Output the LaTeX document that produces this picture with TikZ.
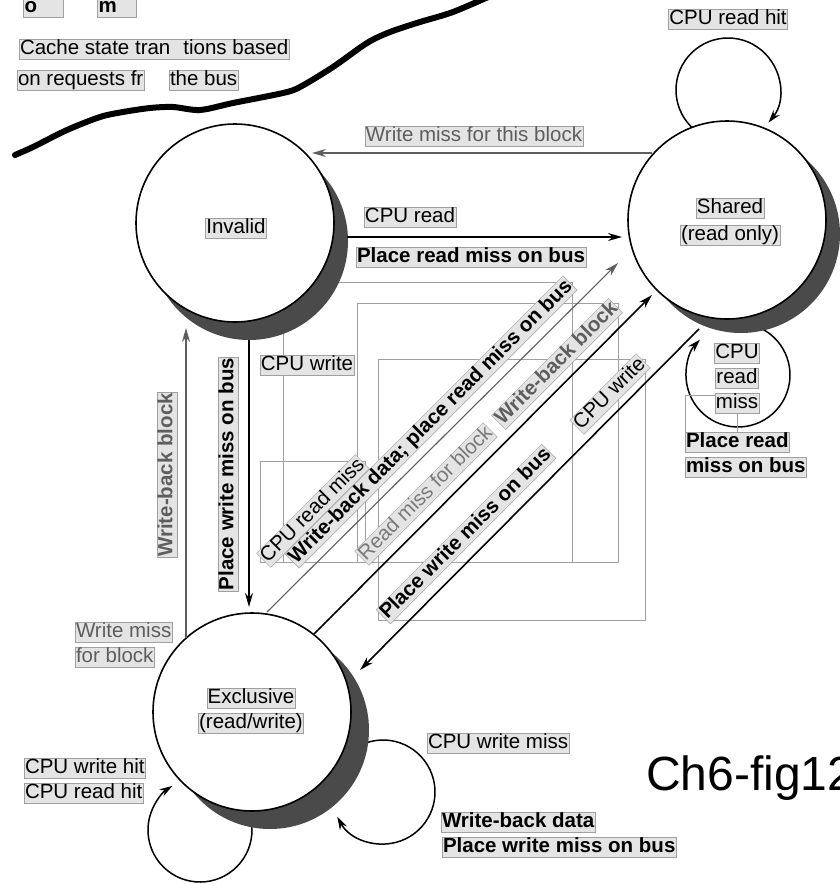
\documentclass[tikz,border=0pt]{standalone}
\usepackage{fontspec}
\setmainfont{Liberation Sans}
\usetikzlibrary{arrows.meta,calc}
\definecolor{shadowgray}{HTML}{4A4A4A}
\definecolor{busgray}{HTML}{5E5E5E}
\definecolor{lightbus}{HTML}{7A7A7A}
\definecolor{boxfill}{HTML}{E4E4E4}
\definecolor{boxline}{HTML}{A0A0A0}
\newcommand\lblsz{\fontsize{20.5}{25}\selectfont}
\pgfdeclarelayer{bg}
\pgfsetlayers{bg,main}
\begin{document}
\begin{tikzpicture}[x=1pt,y=1pt,
  statec/.style={circle,draw=black,line width=1.6pt,fill=white,minimum size=198pt,inner sep=0pt},
  shadowc/.style={circle,fill=shadowgray,minimum size=198pt,inner sep=0pt},
  lbl/.style={fill=boxfill,draw=boxline,line width=0.4pt,inner sep=0.8pt,text height=14.5pt,text depth=4pt,font=\lblsz},
  lblb/.style={lbl,font=\lblsz\bfseries},
  arr/.style={line width=1.6pt,-{Stealth[length=14pt,width=8pt]}},
  busarr/.style={line width=1.4pt,draw=busgray,-{Stealth[length=14pt,width=8pt]}},
  thinarr/.style={line width=1.1pt,draw=busgray,-{Stealth[length=14pt,width=8pt]}},
  loopline/.style={line width=1.5pt,-{Stealth[length=13pt,width=8pt]}},
  artifact/.style={draw=boxline,line width=0.8pt}
]
\useasboundingbox (0,0) rectangle (840,-884);
\clip (0,0) rectangle (840,-884);
\begin{pgfonlayer}{bg}
\fill[white] (0,0) rectangle (840,-884);
\end{pgfonlayer}

% thick separating curve
\draw[line width=6pt,line cap=round,line join=round] plot[smooth] coordinates
 {(15,-155) (33,-147) (67,-130) (100,-117) (123,-112) (150,-108) (173,-107) (200,-110) (233,-103) (283,-93) (300,-87) (333,-67) (367,-43) (390,-32) (420,-22) (453,-12) (495,6)};

% gray box outlines
\draw[artifact] (283,-282) rectangle (572,-562);
\draw[artifact] (357,-303) rectangle (618,-562);
\draw[artifact] (378,-359) rectangle (645,-620);
\draw[artifact] (260,-461) rectangle (365,-562);
\draw[artifact] (685,-395) rectangle (737,-433);

% states
\node[shadowc] (invs) at (249,-241) {};
\node[statec] (inv) at (235,-223) {};
\node[shadowc] (shs) at (741,-234) {};
\node[statec] (sh) at (727,-220) {};
\node[shadowc] (exs) at (270,-730) {};
\node[statec] (ex) at (252,-712) {};

% self loops (behind states)
\begin{pgfonlayer}{bg}
\draw[loopline] ($(sh)+(1,130)$) ++(230:52) arc[start angle=230,end angle=-39,radius=52];
\draw[loopline] ($(sh)+(11,-155)$) ++(70:52) arc[start angle=70,end angle=-223,radius=52];
\draw[loopline] ($(ex)+(-52,-118)$) ++(40:52) arc[start angle=40,end angle=-238,radius=52];
\draw[loopline] ($(ex)+(131,-80)$) ++(110:52) arc[start angle=110,end angle=-151.5,radius=52];
\end{pgfonlayer}

% transitions
\draw[busarr] ($(sh)+(-75,67)$) -- ($(inv)+(77,70)$);
\draw[arr] ($(invs)+(98,4)$) -- ($(sh)+(-105,-17)$);
\draw[arr] (invs.south) -- ($(ex)+(-3,105)$);
\draw[busarr] ($(ex)+(-66,74)$) -- ($(inv)+(-49,-105)$);
\draw[thinarr] ($(ex)+(15,100)$) -- ($(sh)+(-109,-43)$);
\draw[arr] ($(ex)+(62,78)$) -- ($(sh)+(-75,-75)$);
\draw[arr] ($(shs)+(-42,-95)$) -- ($(ex)+(108,42)$);

% state texts
\node[lbl] (tInv) at (236,-228) {Invalid};
\node[lbl] (tSh1) at (730,-208) {Shared};
\node[lbl] (tSh2) at (730,-235) {(read only)};
\node[lbl] (tEx1) at (251,-698) {Exclusive};
\node[lbl] (tEx2) at (251,-723) {(read/write)};

% top-left texts
\node[lblb,anchor=base west,minimum width=40pt,align=left,text width=37pt] (lo) at (23,-12) {o};
\node[lblb,anchor=base west,minimum width=39pt,align=left,text width=36pt] (lm) at (97,-12) {m};
\node[lbl,anchor=west] (lcache) at (19,-49) {Cache state tran\hspace{13pt}tions based};
\node[lbl,anchor=west] (lreq) at (17,-80) {on requests fr};
\node[lbl,anchor=west] (lbus) at (169,-80) {the bus};

% transition labels
\node[lbl] (lCRH) at (728,-19) {CPU read hit};
\node[lbl,text=busgray] (lWMTB) at (474,-136) {Write miss for this block};
\node[lbl] (lCR) at (410,-217) {CPU read};
\node[lblb] (lPRM) at (471,-257) {Place read miss on bus};
\node[lbl] (lCW) at (307,-365) {CPU write};
\node[lbl,anchor=west,text=busgray] (lWM1) at (75,-632) {Write miss};
\node[lbl,anchor=west,text=busgray] (lWM2) at (75,-657) {for block};
\node[lbl,anchor=west] (lCWH) at (24,-768) {CPU write hit};
\node[lbl,anchor=west] (lCRH2) at (24,-793) {CPU read hit};
\node[lbl,anchor=west] (lCWM) at (427,-743) {CPU write miss};
\node[lblb,anchor=west] (lWBD) at (441,-822) {Write-back data};
\node[lblb,anchor=west] (lPWM) at (442,-847) {Place write miss on bus};
\node[lbl] (lC1) at (737,-353) {CPU};
\node[lbl] (lC2) at (737,-378) {read};
\node[lbl] (lC3) at (737,-403) {miss};
\node[lblb,anchor=west] (lPR1) at (685,-442) {Place read};
\node[lblb,anchor=west] (lPR2) at (685,-467) {miss on bus};
\node[lblb,rotate=90,text=busgray] (lWBB) at (167,-475) {Write-back block};
\node[lblb,rotate=90] (lPWMv) at (228,-474) {Place write miss on bus};
\node[lbl,rotate=45] (dCRM) at (313,-511) {CPU read miss};
\node[lblb,rotate=45] (dWBD) at (431,-422) {Write-back data; place read miss on bus};
\node[lbl,rotate=45,text=lightbus] (dRMB) at (426,-494) {Read miss for block};
\node[lblb,rotate=45,text=busgray] (dWBB) at (557,-364) {Write-back block};
\node[lblb,rotate=45] (dPWM) at (466,-534) {Place write miss on bus};
\node[lbl,rotate=45] (dCW) at (610,-394) {CPU write};

% caption
\node[anchor=west,inner sep=0pt,font=\fontsize{48}{50}\selectfont] (cap) at (646,-778) {Ch6-fig12};
\end{tikzpicture}
\end{document}
